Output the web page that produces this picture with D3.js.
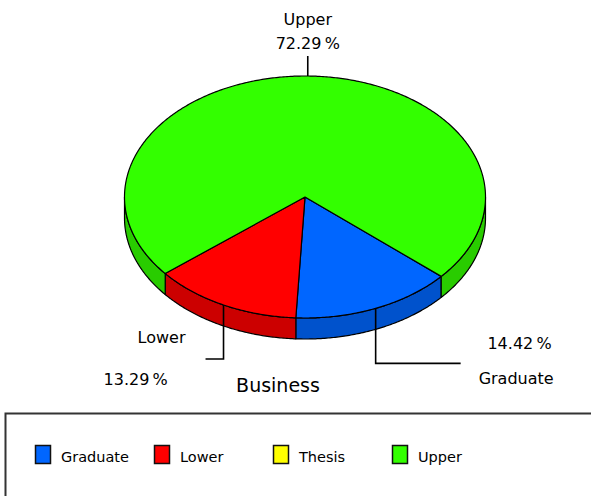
<!DOCTYPE html>
<html><head><meta charset="utf-8">
<script src="https://cdn.jsdelivr.net/npm/d3@7"></script>
<style>html,body{margin:0;padding:0;background:#fff;overflow:hidden}</style>
</head><body>
<script>
const categories = ["Graduate", "Lower", "Thesis", "Upper"];
const values = [14.42, 13.29, 0, 72.29];
const percentLabels = ["14.42\u2009%", "13.29\u2009%", "0\u2009%", "72.29\u2009%"];
const title = "Business";
const topColors = ["#0066ff", "#ff0000", "#ffff00", "#33ff00"];
const sideColors = ["#0052cc", "#cc0000", "#cccc00", "#29cc00"];

const W = 591, H = 496;
const svg = d3.select("body").append("svg").attr("width", W).attr("height", H);

const cx = 305, cy = 197, rx = 180.5, ry = 121, depth = 21;
const start = 131 * Math.PI / 180;
const pie = d3.pie().sort(null).value(d => d).startAngle(start).endAngle(start + 2 * Math.PI);
const arcs = pie(values).map((a, i) => ({...a, i}));

const color = d3.scaleOrdinal().domain(categories).range(topColors);
const sideColor = d3.scaleOrdinal().domain(categories).range(sideColors);

const px = t => cx + rx * Math.sin(t);
const py = (t, dy = 0) => cy - ry * Math.cos(t) + dy;
const line = d3.line();

function arcPts(a0, a1, dy) {
  const n = Math.max(2, Math.ceil(Math.abs(a1 - a0) / 0.01));
  return d3.range(n + 1).map(k => {
    const t = a0 + (a1 - a0) * k / n;
    return [px(t), py(t, dy)];
  });
}

const gSide = svg.append("g");
const gTop = svg.append("g");

arcs.forEach(a => {
  if (a.endAngle - a.startAngle <= 0) return;
  for (let k = -1; k <= 1; k++) {
    const lo = Math.PI / 2 + k * 2 * Math.PI, hi = 3 * Math.PI / 2 + k * 2 * Math.PI;
    const s = Math.max(a.startAngle, lo), e = Math.min(a.endAngle, hi);
    if (e > s) {
      const pts = arcPts(s, e, 0).concat(arcPts(e, s, depth));
      gSide.append("path")
        .attr("d", line(pts) + "Z")
        .attr("fill", sideColor(categories[a.i]))
        .attr("stroke", "#000").attr("stroke-width", 1.2).attr("stroke-linejoin", "round");
    }
  }
});

arcs.forEach(a => {
  if (a.endAngle - a.startAngle <= 0) return;
  const pts = [[cx, cy]].concat(arcPts(a.startAngle, a.endAngle, 0));
  gTop.append("path")
    .attr("d", line(pts) + "Z")
    .attr("fill", color(categories[a.i]))
    .attr("stroke", "#000").attr("stroke-width", 1.2).attr("stroke-linejoin", "round");
});

const font = "DejaVu Sans";
const lab = svg.append("g").attr("font-family", font).attr("font-size", 16).attr("fill", "#000");
const lines = svg.append("g").attr("stroke", "#000").attr("stroke-width", 1.6).attr("fill", "none");
function mid(i) { return (arcs[i].startAngle + arcs[i].endAngle) / 2; }

{
  const t = mid(3), x = px(t), y = py(t);
  lines.append("path").attr("d", line([[x, y], [x, y - 20]]));
  lab.append("text").attr("x", x).attr("y", y - 51).attr("text-anchor", "middle").text(categories[3]);
  lab.append("text").attr("x", x).attr("y", y - 27).attr("text-anchor", "middle").text(percentLabels[3]);
}
{
  const t = mid(1), x = px(t), y = py(t);
  const yb = y + 54;
  lines.append("path").attr("d", line([[x, y], [x, yb], [x - 18, yb]]));
  lab.append("text").attr("x", x - 38).attr("y", yb - 16).attr("text-anchor", "end").text(categories[1]);
  lab.append("text").attr("x", x - 120).attr("y", yb + 26).attr("text-anchor", "start").text(percentLabels[1]);
}
{
  const t = mid(0), x = px(t), y = py(t);
  const yb = y + 55;
  lines.append("path").attr("d", line([[x, y], [x, yb], [x + 85, yb]]));
  lab.append("text").attr("x", x + 176).attr("y", yb - 14).attr("text-anchor", "end").text(percentLabels[0]);
  lab.append("text").attr("x", x + 178).attr("y", yb + 21).attr("text-anchor", "end").text(categories[0]);
}

svg.append("text").attr("x", 278).attr("y", 392).attr("text-anchor", "middle")
  .attr("font-family", font).attr("font-size", 19).text(title);

svg.append("rect").attr("x", 5.5).attr("y", 413.5).attr("width", 620).attr("height", 120)
  .attr("fill", "none").attr("stroke", "#333").attr("stroke-width", 2);
const lx = d3.scalePoint().domain(categories).range([35, 392]);
const lg = svg.append("g").selectAll("g").data(categories).join("g")
  .attr("transform", d => `translate(${lx(d)},445.5)`);
lg.append("rect").attr("x", 0.5).attr("y", 0).attr("width", 15).attr("height", 18)
  .attr("fill", d => color(d)).attr("stroke", "#111").attr("stroke-width", 1.5);
lg.append("text").attr("x", 26).attr("y", 16.5).attr("font-family", font).attr("font-size", 14.5)
  .text(d => d);
</script>
</body></html>
